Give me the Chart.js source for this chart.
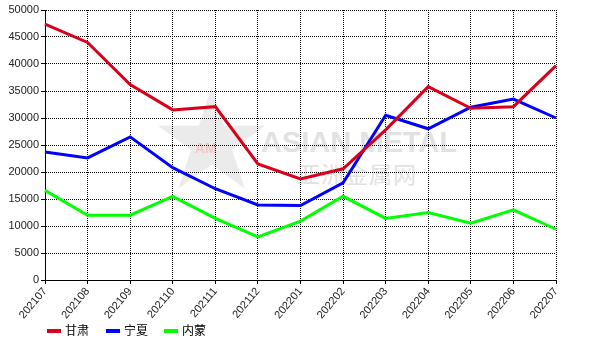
<!DOCTYPE html>
<html>
<head>
<meta charset="utf-8">
<script src="https://cdn.jsdelivr.net/npm/chart.js@4.4.0/dist/chart.umd.min.js"></script>
<style>
    html, body { margin: 0; padding: 0; background: #fff; }
    #wrap { position: relative; width: 590px; height: 340px; }
    #chart { position: relative; z-index: 1; }
    .wm { position: absolute; z-index: 0; color: #e2e2e2; font-family: "Liberation Sans", Arial, sans-serif; font-weight: bold; white-space: nowrap; }
    #legend { position: absolute; z-index: 2; left: 47px; top: 321px; height: 18px; font: 12px "Noto Sans CJK SC", sans-serif; color: #000; }
    #legend .item { position: absolute; top: 0; white-space: nowrap; line-height: 18px; }
    #legend .sw { display: inline-block; width: 14px; height: 4px; vertical-align: middle; margin-right: 4px; margin-top: -2px; }
</style>
</head>
<body>
<div id="wrap">
    <div class="wm" style="left:156px; top:78px; font-size:124px; line-height:124px; color:#ebebeb;">★</div>
    <div class="wm" style="left:195px; top:140px; font-size:14px; color:#f3c6c6;">AM</div>
    <div class="wm" style="left:261px; top:126px; font-size:29px;">ASIAN METAL</div>
    <div class="wm" style="left:297px; top:156px; font-size:23px; font-weight:normal; letter-spacing:1px; font-family:'Noto Sans CJK SC';">亚洲金属网</div>
    <canvas id="chart" width="590" height="340"></canvas>
    <div id="legend"></div>
</div>
<script>
// 月份
const months = ['202107', '202108', '202109', '202110', '202111', '202112', '202201',
    '202202', '202203', '202204', '202205', '202206', '202207'];

const gansu = [47400, 44000, 36200, 31500, 32100, 21500, 18700, 20600, 27800, 35800, 31800, 32100, 39700];
const ningxia = [23700, 22600, 26500, 20800, 16900, 13900, 13800, 18000, 30500, 28000, 32000, 33500, 30000];
const neimeng = [16600, 12000, 12000, 15500, 11400, 8000, 10900, 15500, 11400, 12500, 10500, 13000, 9400];

const seriesNames = ['甘肃', '宁夏', '内蒙'];
const seriesColors = ['#d9001b', '#0000ff', '#00ff00'];

const yMin = 0;
const yMax = 50000;
const yStep = 5000;

function makeDataset(idx, data) {
    return {
        label: seriesNames[idx],
        data: data,
        borderColor: seriesColors[idx],
        backgroundColor: seriesColors[idx],
        borderWidth: 3,
        pointRadius: 0,
        tension: 0,
        fill: false
    };
}

const gridStyle = {
    color: '#000',
    lineWidth: 1,
    tickLength: 4,
    tickColor: '#000'
};
const tickFont = { family: '"Liberation Sans", Arial, sans-serif', size: 11 };

new Chart(document.getElementById('chart').getContext('2d'), {
    type: 'line',
    data: {
        labels: months,
        datasets: [
            makeDataset(0, gansu),
            makeDataset(1, ningxia),
            makeDataset(2, neimeng)
        ]
    },
    options: {
        responsive: false,
        animation: false,
        layout: {
            padding: { left: 0, right: 34, top: 10, bottom: 20 }
        },
        scales: {
            x: {
                offset: false,
                grid: gridStyle,
                border: { display: true, color: '#000', width: 1, dash: [1, 1] },
                ticks: {
                    color: '#222',
                    font: tickFont,
                    maxRotation: 50,
                    minRotation: 50,
                    autoSkip: false,
                    padding: 1
                },
                afterFit: (scale) => { scale.height = 40; }
            },
            y: {
                min: yMin,
                max: yMax,
                grid: gridStyle,
                border: { display: true, color: '#000', width: 1, dash: [1, 1] },
                ticks: {
                    stepSize: yStep,
                    color: '#222',
                    font: tickFont,
                    padding: 2,
                    callback: (value) => String(value)
                },
                afterFit: (scale) => { scale.width = 45; }
            }
        },
        plugins: {
            legend: { display: false },
            tooltip: { enabled: false }
        }
    },
    plugins: [{
        // solid axis lines on left and bottom
        id: 'axisLines',
        beforeDatasetsDraw(chart) {
            const { ctx, chartArea } = chart;
            ctx.save();
            ctx.strokeStyle = '#000';
            ctx.lineWidth = 1;
            ctx.setLineDash([]);
            ctx.beginPath();
            ctx.moveTo(chartArea.left + 0.5, chartArea.top);
            ctx.lineTo(chartArea.left + 0.5, chartArea.bottom + 0.5);
            ctx.lineTo(chartArea.right, chartArea.bottom + 0.5);
            ctx.stroke();
            ctx.restore();
        }
    }]
});

// legend
const legendEl = document.getElementById('legend');
const legendStep = 58.5;
seriesNames.forEach((name, i) => {
    const item = document.createElement('span');
    item.className = 'item';
    item.style.left = Math.round(i * legendStep) + 'px';
    const sw = document.createElement('span');
    sw.className = 'sw';
    sw.style.background = seriesColors[i];
    item.appendChild(sw);
    item.appendChild(document.createTextNode(name));
    legendEl.appendChild(item);
});
</script>
</body>
</html>
